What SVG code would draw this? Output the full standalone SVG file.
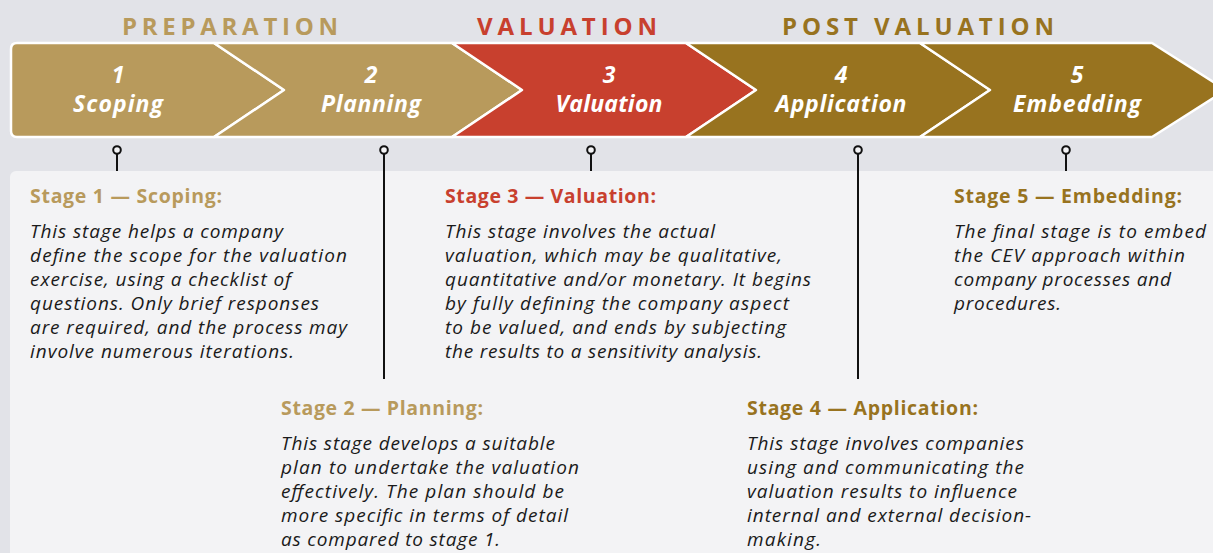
<svg xmlns="http://www.w3.org/2000/svg" width="1213" height="553" viewBox="0 0 1213 553">
<style>
.hdr{font-family:"Open Sans","Noto Sans",sans-serif;font-weight:700;font-size:24px}
.chev{stroke:#ffffff;stroke-width:2.5;stroke-linejoin:round}
.lbl{font-family:"Open Sans","Noto Sans",sans-serif;font-weight:700;font-style:italic;font-size:23px;fill:#ffffff;text-anchor:middle}
.ttl{font-family:"Open Sans","Noto Sans",sans-serif;font-weight:700;font-size:19.5px}
.body{font-family:"Open Sans","Noto Sans",sans-serif;font-style:italic;font-size:19px;fill:#1a1a1a}
.pin{fill:#f3f3f5;stroke:#111111;stroke-width:2}
.stem{stroke:#111111;stroke-width:2;fill:none}
.tan{fill:#b89a5c}.red{fill:#c8402e}.gold{fill:#98731f}
</style>
<rect x="0" y="0" width="1213" height="553" fill="#e2e3e8"/>
<rect x="10" y="171" width="1230" height="420" rx="6" fill="#f3f3f5"/>

<g id="headers">
<text class="hdr tan" x="122" y="35" textLength="216" lengthAdjust="spacing">PREPARATION</text>
<text class="hdr red" x="477" y="35" textLength="180" lengthAdjust="spacing">VALUATION</text>
<text class="hdr gold" x="782" y="35" textLength="272" lengthAdjust="spacing">POST VALUATION</text>
</g>

<g id="stage1-chevron">
<path class="chev tan" d="M17,43 L214,43 L284,90 L214,137 L17,137 Q11,137 11,131 L11,49 Q11,43 17,43 Z"/>
<text class="lbl" x="118" y="83">1</text>
<text class="lbl" x="118" y="112" textLength="90" lengthAdjust="spacing">Scoping</text>
</g>
<g id="stage2-chevron">
<path class="chev tan" d="M214,43 L452,43 L522,90 L452,137 L214,137 L284,90 Z"/>
<text class="lbl" x="371" y="83">2</text>
<text class="lbl" x="371" y="112" textLength="100" lengthAdjust="spacing">Planning</text>
</g>
<g id="stage3-chevron">
<path class="chev red" d="M452,43 L686,43 L756,90 L686,137 L452,137 L522,90 Z"/>
<text class="lbl" x="609" y="83">3</text>
<text class="lbl" x="609" y="112" textLength="107" lengthAdjust="spacing">Valuation</text>
</g>
<g id="stage4-chevron">
<path class="chev gold" d="M686,43 L920,43 L990,90 L920,137 L686,137 L756,90 Z"/>
<text class="lbl" x="841" y="83">4</text>
<text class="lbl" x="841" y="112" textLength="131" lengthAdjust="spacing">Application</text>
</g>
<g id="stage5-chevron">
<path class="chev gold" d="M920,43 L1152,43 L1226,90 L1152,137 L920,137 L990,90 Z"/>
<text class="lbl" x="1077" y="83">5</text>
<text class="lbl" x="1077" y="112" textLength="128" lengthAdjust="spacing">Embedding</text>
</g>

<g id="connectors">
<line class="stem" x1="117" y1="154" x2="117" y2="171"/>
<circle class="pin" cx="117" cy="150" r="3.8"/>
<line class="stem" x1="384" y1="154" x2="384" y2="379"/>
<circle class="pin" cx="384" cy="150" r="3.8"/>
<line class="stem" x1="591" y1="154" x2="591" y2="171"/>
<circle class="pin" cx="591" cy="150" r="3.8"/>
<line class="stem" x1="858" y1="154" x2="858" y2="379"/>
<circle class="pin" cx="858" cy="150" r="3.8"/>
<line class="stem" x1="1066" y1="154" x2="1066" y2="171"/>
<circle class="pin" cx="1066" cy="150" r="3.8"/>
</g>

<g id="stage1-text">
<text class="ttl tan" x="30" y="203" textLength="192" lengthAdjust="spacing">Stage 1 — Scoping:</text>
<text class="body" x="30" y="238" textLength="253" lengthAdjust="spacing">This stage helps a company</text>
<text class="body" x="30" y="262" textLength="317" lengthAdjust="spacing">define the scope for the valuation</text>
<text class="body" x="30" y="286" textLength="261" lengthAdjust="spacing">exercise, using a checklist of</text>
<text class="body" x="30" y="310" textLength="289" lengthAdjust="spacing">questions. Only brief responses</text>
<text class="body" x="30" y="334" textLength="317" lengthAdjust="spacing">are required, and the process may</text>
<text class="body" x="30" y="358" textLength="264" lengthAdjust="spacing">involve numerous iterations.</text>
</g>
<g id="stage3-text">
<text class="ttl red" x="445" y="203" textLength="211" lengthAdjust="spacing">Stage 3 — Valuation:</text>
<text class="body" x="445" y="238" textLength="270" lengthAdjust="spacing">This stage involves the actual</text>
<text class="body" x="445" y="262" textLength="337" lengthAdjust="spacing">valuation, which may be qualitative,</text>
<text class="body" x="445" y="286" textLength="366" lengthAdjust="spacing">quantitative and/or monetary. It begins</text>
<text class="body" x="445" y="310" textLength="344" lengthAdjust="spacing">by fully defining the company aspect</text>
<text class="body" x="445" y="334" textLength="341" lengthAdjust="spacing">to be valued, and ends by subjecting</text>
<text class="body" x="445" y="358" textLength="317" lengthAdjust="spacing">the results to a sensitivity analysis.</text>
</g>
<g id="stage5-text">
<text class="ttl gold" x="954" y="203" textLength="228" lengthAdjust="spacing">Stage 5 — Embedding:</text>
<text class="body" x="954" y="238" textLength="252" lengthAdjust="spacing">The final stage is to embed</text>
<text class="body" x="954" y="262" textLength="231" lengthAdjust="spacing">the CEV approach within</text>
<text class="body" x="954" y="286" textLength="217" lengthAdjust="spacing">company processes and</text>
<text class="body" x="954" y="310" textLength="107" lengthAdjust="spacing">procedures.</text>
</g>
<g id="stage2-text">
<text class="ttl tan" x="281" y="415" textLength="202" lengthAdjust="spacing">Stage 2 — Planning:</text>
<text class="body" x="281" y="450" textLength="274" lengthAdjust="spacing">This stage develops a suitable</text>
<text class="body" x="281" y="474" textLength="298" lengthAdjust="spacing">plan to undertake the valuation</text>
<text class="body" x="281" y="498" textLength="283" lengthAdjust="spacing">effectively. The plan should be</text>
<text class="body" x="281" y="522" textLength="287" lengthAdjust="spacing">more specific in terms of detail</text>
<text class="body" x="281" y="546" textLength="219" lengthAdjust="spacing">as compared to stage 1.</text>
</g>
<g id="stage4-text">
<text class="ttl gold" x="747" y="415" textLength="231" lengthAdjust="spacing">Stage 4 — Application:</text>
<text class="body" x="747" y="450" textLength="277" lengthAdjust="spacing">This stage involves companies</text>
<text class="body" x="747" y="474" textLength="277" lengthAdjust="spacing">using and communicating the</text>
<text class="body" x="747" y="498" textLength="270" lengthAdjust="spacing">valuation results to influence</text>
<text class="body" x="747" y="522" textLength="284" lengthAdjust="spacing">internal and external decision-</text>
<text class="body" x="747" y="546" textLength="74" lengthAdjust="spacing">making.</text>
</g>
</svg>
